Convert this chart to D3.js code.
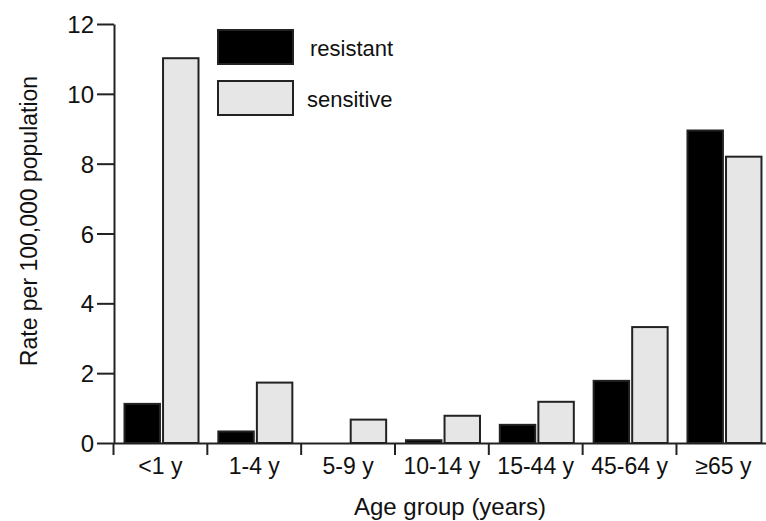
<!DOCTYPE html>
<html>
<head>
<meta charset="utf-8">
<script src="https://cdn.jsdelivr.net/npm/d3@7"></script>
<style>
    body { margin: 0; background: #fff; }
    svg text { font-family: "Liberation Sans", Arial, sans-serif; fill: #111; }
    .axis path, .axis line { stroke: #222; stroke-width: 2; }
</style>
</head>
<body>
<div id="chart"></div>
<script>
var ageGroups = ["<1 y", "1-4 y", "5-9 y", "10-14 y", "15-44 y", "45-64 y", "\u226565 y"];
var resistant = [1.12, 0.33, 0, 0.08, 0.52, 1.78, 8.95];
var sensitive = [11.02, 1.73, 0.67, 0.78, 1.18, 3.32, 8.2];
var seriesNames = ["resistant", "sensitive"];
var seriesColors = ["#000000", "#e6e6e6"];
var yTicks = [0, 2, 4, 6, 8, 10, 12];

var width = 766, height = 521;

var svg = d3.select("#chart").append("svg")
    .attr("width", width)
    .attr("height", height);

// one row per age group, one value per series
var rows = ageGroups.map(function(g, i) {
    return { group: g, values: [resistant[i], sensitive[i]] };
});

var x = d3.scaleBand()
    .domain(ageGroups)
    .range([113.5, 770.3]);

var xInner = d3.scaleBand()
    .domain(seriesNames)
    .range([11, 85])
    .paddingInner(0.08);

var y = d3.scaleLinear()
    .domain([0, 12])
    .range([443, 24]);

var color = d3.scaleOrdinal().domain(seriesNames).range(seriesColors);

// bars
var group = svg.selectAll(".group")
    .data(rows)
    .enter().append("g")
    .attr("class", "group")
    .attr("transform", function(d) { return "translate(" + x(d.group) + ",0)"; });

group.selectAll("rect")
    .data(function(d) { return d.values.map(function(v, i) { return { key: seriesNames[i], value: v }; }); })
    .enter().append("rect")
    .filter(function(d) { return d.value > 0; })
    .attr("x", function(d) { return xInner(d.key); })
    .attr("width", xInner.bandwidth())
    .attr("y", function(d) { return y(d.value); })
    .attr("height", function(d) { return y(0) - y(d.value); })
    .style("fill", function(d) { return color(d.key); })
    .style("stroke", "#222")
    .style("stroke-width", 2);

// y axis
var yAxis = d3.axisLeft(y)
    .tickValues(yTicks)
    .tickSize(17)
    .tickSizeOuter(0)
    .tickPadding(3);

svg.append("g")
    .attr("class", "axis y-axis")
    .attr("transform", "translate(114,0)")
    .call(yAxis)
    .selectAll("text")
    .style("font-size", "24px")
    .attr("dy", "0.36em");

// x axis: labels at band centres, ticks on band edges
var xAxis = d3.axisBottom(x)
    .tickSize(0)
    .tickSizeOuter(0)
    .tickPadding(15);

var xg = svg.append("g")
    .attr("class", "axis x-axis")
    .attr("transform", "translate(0,443)")
    .call(xAxis);

xg.selectAll(".tick line").remove();
xg.selectAll("text")
    .style("font-size", "23px");

xg.selectAll(".edge")
    .data(ageGroups)
    .enter().append("line")
    .attr("class", "edge")
    .attr("x1", function(d) { return x(d); })
    .attr("x2", function(d) { return x(d); })
    .attr("y1", 0)
    .attr("y2", 12);

// axis titles
svg.append("text")
    .attr("text-anchor", "middle")
    .attr("transform", "translate(37,221)rotate(-90)")
    .style("font-size", "23px")
    .text("Rate per 100,000 population");

svg.append("text")
    .attr("text-anchor", "middle")
    .attr("x", 450)
    .attr("y", 515)
    .style("font-size", "24px")
    .text("Age group (years)");

// legend
var legend = svg.selectAll(".legend")
    .data(seriesNames)
    .enter().append("g")
    .attr("class", "legend")
    .attr("transform", function(d, i) { return "translate(218," + (30 + 51 * i) + ")"; });

legend.append("rect")
    .attr("width", 75)
    .attr("height", 34)
    .style("fill", function(d) { return color(d); })
    .style("stroke", "#222")
    .style("stroke-width", 2);

legend.append("text")
    .attr("x", function(d, i) { return i === 0 ? 92 : 89; })
    .attr("y", 26)
    .style("font-size", "22px")
    .text(function(d) { return d; });
</script>
</body>
</html>
